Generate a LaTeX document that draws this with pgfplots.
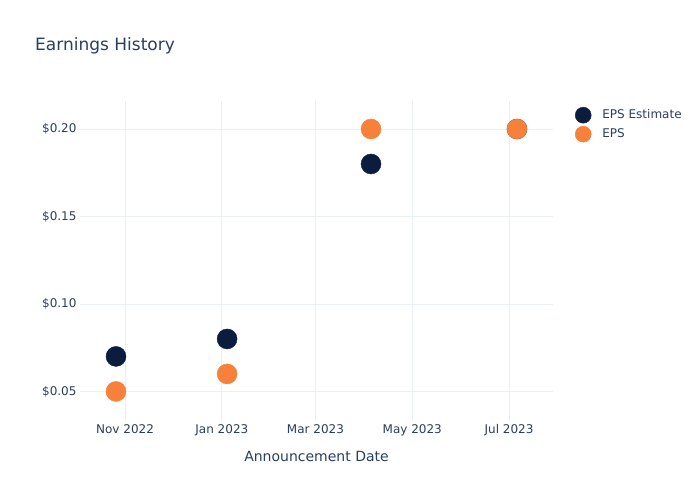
\documentclass[border=0pt]{standalone}
\usepackage{pgfplots}
\pgfplotsset{compat=1.18}
\usepackage{fontspec}
\setmainfont{DejaVu Sans}
\definecolor{txt}{HTML}{2A3F5F}
\definecolor{gridc}{HTML}{EBF0F8}
\definecolor{navy}{HTML}{0B1D3F}
\definecolor{orng}{HTML}{F7803A}
\begin{document}
\begin{tikzpicture}[x=1bp,y=1bp]
\useasboundingbox[fill=white] (0,0) rectangle (700,500);
\node[anchor=west,text=txt,font=\fontsize{17bp}{20bp}\selectfont,inner sep=0pt] at (35,454) {Earnings History};
\begin{axis}[
  at={(80bp,79bp)}, anchor=south west,
  scale only axis, width=473bp, height=320bp,
  xmin=-28.4, xmax=269.7, ymin=0.0331, ymax=0.216,
  axis line style={draw=none},
  tick style={draw=none},
  grid=major, major grid style={draw=gridc, line width=0.8pt},
  xtick={0,61,120,181,242},
  xticklabels={Nov 2022,Jan 2023,Mar 2023,May 2023,Jul 2023},
  ytick={0.05,0.10,0.15,0.20},
  yticklabels={\$0.05,\$0.10,\$0.15,\$0.20},
  ticklabel style={text=txt,font=\fontsize{12bp}{14bp}\selectfont},
  xlabel={Announcement Date},
  xlabel style={text=txt,font=\fontsize{14bp}{16bp}\selectfont, yshift=-8bp},
  legend style={draw=none, fill=none, at={(495bp,314bp)}, anchor=north west,
    font=\fontsize{12bp}{14bp}\selectfont, text=txt, row sep=3bp,
    legend cell align=left, inner sep=0pt,
    nodes={inner sep=1bp, text height=9bp, text depth=3bp}},
  legend image code/.code={\draw[#1, mark size=8bp] plot coordinates {(30bp,0bp)};\path (48bp,0bp);},
]
\addplot[only marks, mark=*, mark size=10bp, draw=navy, fill=navy] coordinates {
  (-5.7,0.07) (64.3,0.08) (155,0.18) (247,0.20)
};
\addlegendentry{EPS Estimate}
\addplot[only marks, mark=*, mark size=10bp, draw=orng, fill=orng] coordinates {
  (-5.7,0.05) (64.3,0.06) (155,0.20) (247,0.20)
};
\addlegendentry{EPS}
\end{axis}
\end{tikzpicture}
\end{document}
